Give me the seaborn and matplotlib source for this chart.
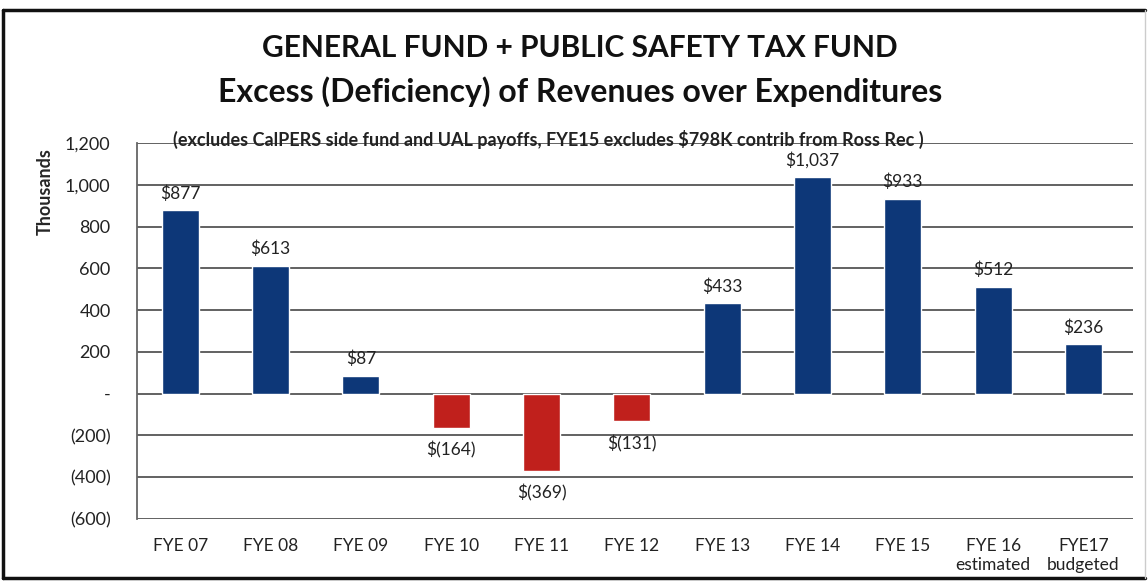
import matplotlib
matplotlib.use("Agg")
import matplotlib.pyplot as plt
import seaborn as sns
from matplotlib.lines import Line2D

# chart values (thousands of dollars)
categories = ["FYE 07", "FYE 08", "FYE 09", "FYE 10", "FYE 11", "FYE 12",
              "FYE 13", "FYE 14", "FYE 15", "FYE 16\nestimated", "FYE17\nbudgeted"]
values = [877, 613, 87, -164, -369, -131, 433, 1037, 933, 512, 236]
y_ticks = [1200, 1000, 800, 600, 400, 200, 0, -200, -400, -600]
y_tick_labels = ["1,200", "1,000", "800", "600", "400", "200", "-",
                 "(200)", "(400)", "(600)"]

POS = "#0d3778"
NEG = "#c0201c"
FONT = "Lato"


def money(v):
    s = f"{abs(v):,}"
    return f"${s}" if v >= 0 else f"$({s})"


sns.set_theme(style="white")
plt.rcParams["font.family"] = [FONT, "DejaVu Sans"]

fig = plt.figure(figsize=(11.48, 5.82), dpi=100)
ax = fig.add_axes([0.1193, 0.1082, 0.8677, 0.6461])

colors = [POS if v >= 0 else NEG for v in values]
sns.barplot(x=categories, y=values, hue=categories, palette=colors,
            legend=False, width=0.41, saturation=1, ax=ax)

ax.set_ylim(-600, 1200)
ax.set_xlim(-0.48, 10.55)
ax.set_yticks(y_ticks)
ax.set_yticklabels(y_tick_labels, fontsize=13, color="#222222")
ax.tick_params(axis="x", labelsize=12.5, colors="#222222", pad=14, length=0)
ax.tick_params(axis="y", length=0, pad=19)
ax.set_xlabel("")
ax.set_ylabel("Thousands", fontsize=13, fontweight="bold")
ax.yaxis.set_label_coords(-0.084, 0.872)

for yv in y_ticks:
    ax.axhline(yv, color="#555555", lw=1.3, zorder=0)
for s in ["top", "right", "bottom"]:
    ax.spines[s].set_visible(False)
ax.spines["left"].set_color("#666666")
ax.spines["left"].set_linewidth(1.3)

for c, cont in enumerate(ax.containers):
    v = values[c]
    ax.bar_label(cont, labels=[money(v)], padding=6 if v >= 0 else 10,
                 fontsize=12.5, color="#222222")

ax.text(0.413, 1185, "(excludes CalPERS side fund and UAL payoffs, FYE15 excludes $798K contrib from Ross Rec )",
        transform=ax.get_yaxis_transform(), ha="center", va="baseline",
        fontsize=13, fontweight="bold", color="#222222")

fig.text(0.505, 1 - 48 / 582, "GENERAL FUND + PUBLIC SAFETY TAX FUND",
         ha="center", va="center", fontsize=21.5, fontweight="bold", color="#111111")
fig.text(0.505, 1 - 92 / 582, "Excess (Deficiency) of Revenues over Expenditures",
         ha="center", va="center", fontsize=23, fontweight="bold", color="#111111")

# scanned frame around chart
W, H = 1148, 582
fig.add_artist(Line2D([3 / W, 1145 / W], [1 - 10 / H, 1 - 10 / H], color="#111111", lw=2.5))
fig.add_artist(Line2D([3 / W, 3 / W], [1 - 10 / H, 1 - 578 / H], color="#111111", lw=2.5))
fig.add_artist(Line2D([3 / W, 1145 / W], [1 - 578 / H, 1 - 578 / H], color="#111111", lw=2.5))
fig.add_artist(Line2D([1145 / W, 1145 / W], [1 - 10 / H, 1 - 578 / H], color="#cccccc", lw=1))

fig.savefig("out.png", dpi=100)
